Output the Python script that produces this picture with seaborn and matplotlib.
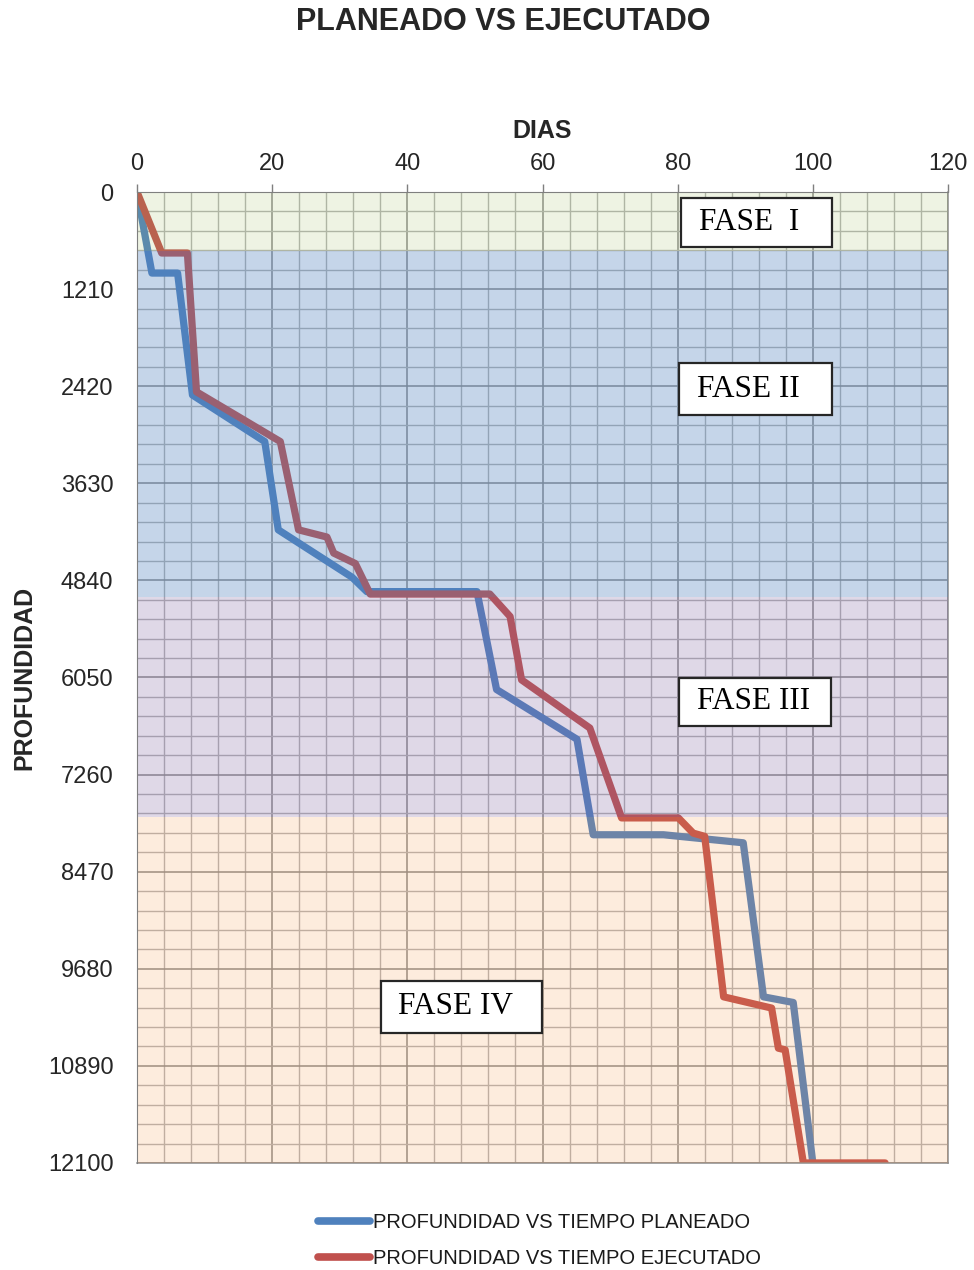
import pandas as pd
import matplotlib.pyplot as plt
import seaborn as sns
from matplotlib.lines import Line2D
from matplotlib.patches import Rectangle
from matplotlib.ticker import MultipleLocator

# --- Datos ---
dias_planeado = [0, 2.2, 6.0, 8.2, 18.9, 20.9, 31.8, 34.0, 50.3, 53.2, 65.1,
                 67.5, 77.9, 89.7, 92.7, 97.1, 100]
prof_planeado = [0, 1010, 1010, 2530, 3110, 4210, 4800, 4980, 4980, 6200, 6820,
                 8010, 8010, 8110, 10030, 10100, 12100]

dias_ejecutado = [0, 3.65, 7.45, 8.8, 21.2, 23.9, 28.1, 29.1, 32.3, 34.5, 52.2,
                  55.2, 56.9, 67.0, 71.7, 80.1, 82.3, 84.0, 86.8, 93.9, 94.9,
                  95.9, 98.6, 110.7]
prof_ejecutado = [0, 760, 760, 2490, 3110, 4210, 4300, 4500, 4630, 5010, 5010,
                  5290, 6080, 6680, 7800, 7800, 7990, 8030, 10030, 10170, 10670,
                  10690, 12100, 12100]

series = ["PROFUNDIDAD VS TIEMPO PLANEADO", "PROFUNDIDAD VS TIEMPO EJECUTADO"]
colores = ["#4F81BD", "#C0504D"]

# limites de profundidad de cada fase
fases = ["FASE  I", "FASE II", "FASE III", "FASE IV"]
fase_limites = [0, 735, 5047, 7788, 12100]
fase_colores = [("#9BBB59", 0.17), ("#4F81BD", 0.33), ("#8064A2", 0.25), ("#F79646", 0.18)]

y_ticks = [0, 1210, 2420, 3630, 4840, 6050, 7260, 8470, 9680, 10890, 12100]
x_ticks = [0, 20, 40, 60, 80, 100, 120]

df = pd.concat([
    pd.DataFrame({"dias": dias_planeado, "prof": prof_planeado, "serie": series[0]}),
    pd.DataFrame({"dias": dias_ejecutado, "prof": prof_ejecutado, "serie": series[1]}),
], ignore_index=True)

sns.set_style("white")
plt.rcParams["font.family"] = ["Liberation Sans", "DejaVu Sans"]

fig = plt.figure(figsize=(9.74, 12.7), dpi=100)
ax = fig.add_axes([0.1407, 0.0843, 0.8326, 0.7645])

sns.lineplot(data=df, x="dias", y="prof", hue="serie", palette=dict(zip(series, colores)),
             sort=False, estimator=None, linewidth=5.2, legend=False, ax=ax,
             solid_capstyle="round", solid_joinstyle="round", zorder=2)

# capas de color de las fases (encima de las lineas, semitransparentes)
for i, (c, a) in enumerate(fase_colores):
    ax.axhspan(fase_limites[i], fase_limites[i + 1], color=c, alpha=a, lw=0, zorder=3)

ax.set_xlim(0, 120)
ax.set_ylim(12100, 0)
ax.set_xticks(x_ticks)
ax.set_yticks(y_ticks)
ax.xaxis.set_minor_locator(MultipleLocator(4))
ax.yaxis.set_minor_locator(MultipleLocator(242))
ax.xaxis.tick_top()
ax.set_axisbelow(True)
ax.grid(which="major", color="#8C8C8C", lw=1.1)
ax.grid(which="minor", color="#B4B4B4", lw=1.0)
ax.tick_params(which="major", direction="out", length=6, width=1, color="#7F7F7F",
               labelsize=17, labelcolor="#262626")
ax.tick_params(axis="x", which="major", pad=6)
ax.tick_params(axis="y", which="major", pad=11)
ax.tick_params(which="minor", length=0)
for s in ["left", "top"]:
    ax.spines[s].set_color("#7F7F7F")
    ax.spines[s].set_zorder(5)
for s in ["right", "bottom"]:
    ax.spines[s].set_color("#8C8C8C")
    ax.spines[s].set_linewidth(1.1)

ax.xaxis.set_label_position("top")
ax.set_xlabel("DIAS", fontsize=18, fontweight="bold", labelpad=11)
ax.set_ylabel("PROFUNDIDAD", fontsize=18, fontweight="bold", labelpad=8)

# cajas de texto de las fases (coordenadas de ejes)
cajas = [(0.671, 0.943, 0.186, 0.051, 0.693),
         (0.668, 0.770, 0.189, 0.054, 0.690),
         (0.668, 0.450, 0.188, 0.0495, 0.690),
         (0.301, 0.134, 0.198, 0.0534, 0.322)]
for nombre, (x0, y0, w, h, xt) in zip(fases, cajas):
    ax.add_patch(Rectangle((x0, y0), w, h, transform=ax.transAxes, facecolor="white",
                           edgecolor="#262626", lw=1.6, zorder=6))
    ax.text(xt, y0 + h / 2, nombre, transform=ax.transAxes, ha="left", va="center",
            fontsize=22.5, family=["Liberation Serif", "DejaVu Serif"], color="black", zorder=7)

fig.text(0.517, 0.983, "PLANEADO VS EJECUTADO", ha="center", va="center",
         fontsize=22, fontweight="bold")

handles = [Line2D([], [], color=c, lw=5.5, solid_capstyle="round") for c in colores]
fig.legend(handles, series, loc="upper left", bbox_to_anchor=(318 / 974, 1 - 1213 / 1270),
           frameon=False, borderpad=0, borderaxespad=0, handlelength=2.6,
           handletextpad=0.15, labelspacing=0.85, fontsize=14.5, labelcolor="#1a1a1a")

fig.savefig("out.png", dpi=100)
